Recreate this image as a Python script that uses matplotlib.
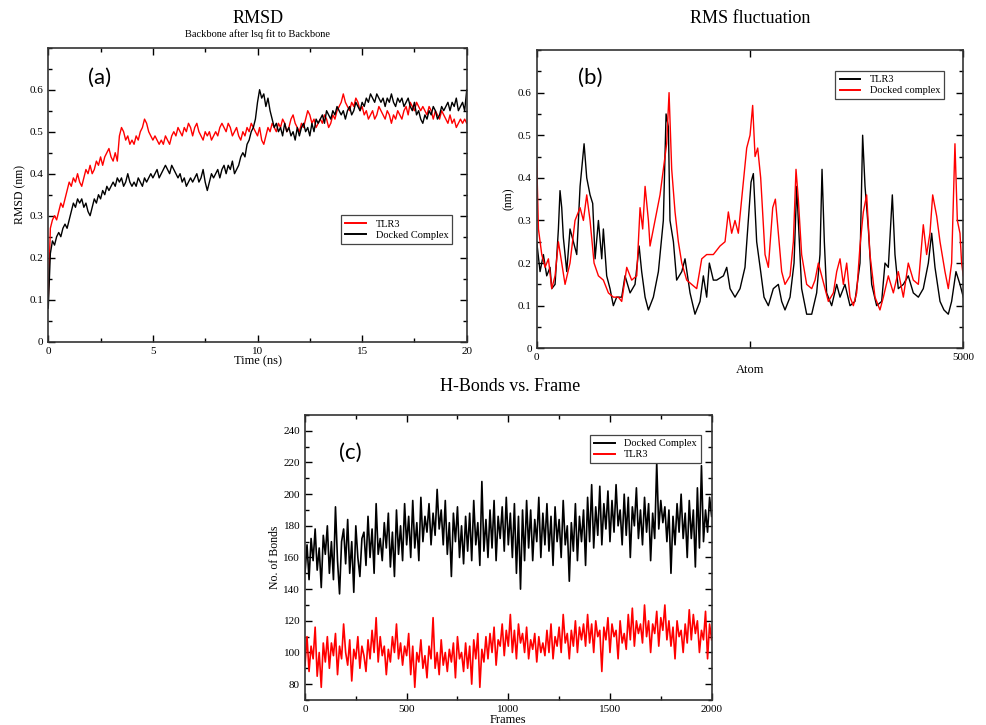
import numpy as np
import matplotlib
matplotlib.use("Agg")
import matplotlib.pyplot as plt
from matplotlib.ticker import MultipleLocator, FixedLocator

plt.rcParams['font.family'] = ['Liberation Serif', 'DejaVu Serif']

# ---- (a) RMSD data, 0.1 ns steps ----
rmsd_time = np.linspace(0, 20, 201)
rmsd_tlr3 = [
    0.10, 0.27, 0.29, 0.30, 0.29, 0.31, 0.33, 0.32, 0.34, 0.36,
    0.38, 0.37, 0.39, 0.38, 0.40, 0.38, 0.37, 0.39, 0.41, 0.40,
    0.42, 0.40, 0.41, 0.43, 0.42, 0.44, 0.42, 0.44, 0.45, 0.46,
    0.44, 0.43, 0.45, 0.43, 0.49, 0.51, 0.50, 0.48, 0.49, 0.47,
    0.48, 0.47, 0.49, 0.48, 0.50, 0.51, 0.53, 0.52, 0.50, 0.49,
    0.48, 0.49, 0.48, 0.47, 0.48, 0.47, 0.49, 0.48, 0.47, 0.49,
    0.50, 0.49, 0.51, 0.50, 0.49, 0.51, 0.50, 0.52, 0.51, 0.49,
    0.51, 0.52, 0.50, 0.49, 0.48, 0.50, 0.49, 0.50, 0.48, 0.49,
    0.50, 0.49, 0.51, 0.52, 0.51, 0.50, 0.52, 0.51, 0.49, 0.50,
    0.51, 0.49, 0.48, 0.50, 0.49, 0.51, 0.50, 0.52, 0.51, 0.50,
    0.49, 0.51, 0.48, 0.47, 0.49, 0.51, 0.50, 0.52, 0.51, 0.50,
    0.52, 0.51, 0.53, 0.52, 0.50, 0.51, 0.53, 0.54, 0.52, 0.51,
    0.50, 0.52, 0.51, 0.53, 0.55, 0.54, 0.52, 0.53, 0.51, 0.52,
    0.53, 0.52, 0.54, 0.53, 0.51, 0.52, 0.54, 0.53, 0.55, 0.56,
    0.57, 0.59, 0.57, 0.56, 0.55, 0.57, 0.56, 0.58, 0.57, 0.55,
    0.56, 0.54, 0.55, 0.53, 0.54, 0.55, 0.53, 0.54, 0.56, 0.55,
    0.54, 0.53, 0.55, 0.54, 0.52, 0.54, 0.53, 0.55, 0.54, 0.53,
    0.55, 0.56, 0.54, 0.57, 0.56, 0.55, 0.57, 0.56, 0.55, 0.56,
    0.55, 0.54, 0.56, 0.55, 0.53, 0.55, 0.54, 0.53, 0.55, 0.54,
    0.53, 0.52, 0.54, 0.52, 0.53, 0.51, 0.52, 0.53, 0.52, 0.53,
    0.52]
rmsd_docked = [
    0.08, 0.21, 0.24, 0.23, 0.25, 0.26, 0.25, 0.27, 0.28, 0.27,
    0.29, 0.31, 0.33, 0.32, 0.34, 0.33, 0.34, 0.32, 0.33, 0.31,
    0.30, 0.32, 0.34, 0.33, 0.35, 0.34, 0.36, 0.35, 0.37, 0.36,
    0.37, 0.38, 0.37, 0.39, 0.38, 0.39, 0.37, 0.38, 0.40, 0.38,
    0.37, 0.38, 0.37, 0.39, 0.38, 0.37, 0.39, 0.38, 0.39, 0.40,
    0.39, 0.40, 0.41, 0.39, 0.40, 0.41, 0.42, 0.41, 0.40, 0.42,
    0.41, 0.40, 0.39, 0.40, 0.38, 0.39, 0.37, 0.38, 0.39, 0.38,
    0.39, 0.40, 0.38, 0.39, 0.41, 0.38, 0.36, 0.38, 0.40, 0.39,
    0.40, 0.41, 0.39, 0.41, 0.42, 0.40, 0.42, 0.41, 0.43, 0.40,
    0.41, 0.42, 0.44, 0.45, 0.44, 0.47, 0.48, 0.50, 0.51, 0.53,
    0.57, 0.60, 0.58, 0.59, 0.56, 0.58, 0.55, 0.53, 0.51, 0.52,
    0.50, 0.51, 0.49, 0.52, 0.50, 0.51, 0.49, 0.50, 0.48, 0.51,
    0.49, 0.51, 0.52, 0.50, 0.51, 0.49, 0.52, 0.50, 0.53, 0.52,
    0.53, 0.54, 0.52, 0.55, 0.54, 0.53, 0.55, 0.54, 0.56, 0.55,
    0.54, 0.55, 0.53, 0.55, 0.56, 0.54, 0.55, 0.57, 0.56, 0.55,
    0.57, 0.56, 0.58, 0.57, 0.59, 0.58, 0.57, 0.59, 0.58, 0.57,
    0.58, 0.56, 0.58, 0.57, 0.59, 0.57, 0.56, 0.58, 0.57, 0.58,
    0.56, 0.57, 0.58, 0.56, 0.55, 0.57, 0.54, 0.55, 0.53, 0.52,
    0.54, 0.53, 0.55, 0.54, 0.56, 0.55, 0.53, 0.54, 0.56, 0.55,
    0.56, 0.57, 0.55, 0.57, 0.56, 0.58, 0.55, 0.56, 0.57, 0.55,
    0.60]

# ---- (b) RMSF data ----
rmsf_atom_tlr3 = [0, 39, 78, 117, 156, 176, 215, 254, 273, 293, 312, 352, 390, 430, 469,
                  508, 555, 586, 625, 656, 684, 723, 762, 781, 820, 859, 898, 937, 996,
                  1035, 1094, 1152, 1200, 1230, 1270, 1309, 1367, 1426, 1484, 1516, 1543,
                  1562, 1602, 1640, 1700, 1738, 1797, 1855, 1914, 1953, 1992, 2023, 2070,
                  2109, 2188, 2227, 2266, 2324, 2383, 2441, 2480, 2512, 2539, 2578, 2625,
                  2664, 2715, 2773, 2832, 2871, 2910, 2969, 3016, 3047, 3066, 3105, 3164,
                  3223, 3281, 3320, 3344, 3371, 3398, 3457, 3516, 3555, 3613, 3672, 3730,
                  3789, 3820, 3848, 3887, 3926, 3984, 4043, 4082, 4121, 4168, 4199, 4238,
                  4297, 4355, 4414, 4473, 4531, 4590, 4629, 4668, 4727, 4773, 4824, 4863,
                  4914, 4961, 5000]
rmsf_tlr3 = [0.25, 0.18, 0.22, 0.17, 0.19, 0.14, 0.15, 0.28, 0.37, 0.33, 0.26, 0.18, 0.28,
             0.25, 0.22, 0.38, 0.48, 0.40, 0.36, 0.34, 0.21, 0.30, 0.21, 0.28, 0.17, 0.14,
             0.10, 0.12, 0.12, 0.17, 0.13, 0.15, 0.24, 0.18, 0.12, 0.09, 0.12, 0.18, 0.30,
             0.55, 0.52, 0.30, 0.25, 0.16, 0.18, 0.21, 0.13, 0.08, 0.11, 0.17, 0.12, 0.20,
             0.16, 0.16, 0.17, 0.19, 0.14, 0.12, 0.14, 0.19, 0.30, 0.39, 0.41, 0.25, 0.18,
             0.12, 0.10, 0.14, 0.15, 0.11, 0.09, 0.12, 0.20, 0.38, 0.30, 0.14, 0.08, 0.08,
             0.13, 0.22, 0.42, 0.25, 0.13, 0.10, 0.15, 0.12, 0.15, 0.10, 0.11, 0.20, 0.50,
             0.38, 0.28, 0.15, 0.10, 0.11, 0.20, 0.19, 0.36, 0.22, 0.14, 0.15, 0.17, 0.13,
             0.12, 0.14, 0.20, 0.27, 0.19, 0.11, 0.09, 0.08, 0.11, 0.18, 0.15, 0.12]
rmsf_atom_docked = [0, 20, 59, 98, 137, 176, 215, 254, 293, 332, 390, 449, 508, 547, 586,
                    625, 672, 723, 781, 840, 898, 957, 996, 1055, 1113, 1172, 1211, 1242,
                    1270, 1309, 1328, 1367, 1406, 1445, 1484, 1523, 1551, 1582, 1621, 1660,
                    1700, 1758, 1816, 1875, 1934, 1992, 2070, 2148, 2207, 2246, 2285, 2324,
                    2363, 2402, 2461, 2500, 2531, 2559, 2590, 2625, 2676, 2715, 2766, 2797,
                    2832, 2871, 2910, 2969, 3008, 3039, 3066, 3105, 3164, 3223, 3262, 3301,
                    3340, 3379, 3418, 3477, 3516, 3555, 3594, 3633, 3672, 3711, 3750, 3789,
                    3828, 3867, 3906, 3965, 4023, 4063, 4121, 4180, 4238, 4297, 4355, 4414,
                    4473, 4531, 4570, 4609, 4641, 4688, 4727, 4785, 4824, 4863, 4902, 4930,
                    4961, 4980, 5000]
rmsf_docked = [0.44, 0.28, 0.22, 0.19, 0.21, 0.14, 0.17, 0.25, 0.20, 0.15, 0.20, 0.30,
               0.33, 0.30, 0.36, 0.30, 0.20, 0.17, 0.16, 0.13, 0.12, 0.12, 0.11, 0.19,
               0.16, 0.17, 0.33, 0.28, 0.38, 0.30, 0.24, 0.28, 0.32, 0.36, 0.42, 0.48,
               0.60, 0.42, 0.32, 0.25, 0.20, 0.16, 0.15, 0.14, 0.21, 0.22, 0.22, 0.24,
               0.25, 0.32, 0.27, 0.30, 0.27, 0.35, 0.47, 0.50, 0.57, 0.45, 0.47, 0.40,
               0.22, 0.19, 0.33, 0.35, 0.27, 0.18, 0.15, 0.17, 0.25, 0.42, 0.35, 0.22,
               0.15, 0.14, 0.16, 0.20, 0.17, 0.14, 0.11, 0.13, 0.18, 0.21, 0.15, 0.20,
               0.12, 0.10, 0.13, 0.24, 0.32, 0.36, 0.22, 0.12, 0.09, 0.12, 0.17, 0.13,
               0.18, 0.12, 0.20, 0.16, 0.15, 0.29, 0.22, 0.27, 0.36, 0.31, 0.25, 0.18,
               0.14, 0.20, 0.48, 0.30, 0.27, 0.20, 0.17]

# ---- (c) H-bond data, every 10 frames ----
hb_frames = np.linspace(0, 2000, 201)
hb_docked = [
    150, 168, 146, 172, 158, 178, 152, 166, 141, 174,
    162, 180, 150, 170, 146, 192, 158, 137, 170, 178,
    156, 184, 150, 170, 138, 180, 160, 148, 172, 176,
    155, 186, 160, 178, 150, 194, 162, 172, 158, 182,
    166, 188, 154, 176, 148, 190, 162, 180, 158, 194,
    168, 186, 160, 196, 166, 182, 158, 198, 170, 186,
    176, 194, 168, 188, 174, 203, 178, 190, 168, 196,
    162, 182, 148, 188, 170, 192, 160, 180, 156, 186,
    164, 188, 158, 196, 168, 182, 155, 208, 164, 184,
    160, 190, 166, 196, 158, 186, 172, 192, 164, 198,
    168, 188, 160, 194, 150, 186, 140, 190, 158, 196,
    166, 190, 158, 184, 170, 198, 160, 188, 168, 194,
    164, 186, 155, 192, 170, 184, 160, 196, 168, 180,
    145, 182, 164, 194, 158, 186, 170, 190, 155, 198,
    170, 206, 166, 192, 174, 205, 168, 194, 178, 202,
    170, 196, 176, 206, 180, 190, 168, 200, 174, 198,
    160, 192, 180, 204, 172, 190, 168, 198, 176, 194,
    158, 188, 172, 220, 178, 196, 182, 192, 170, 190,
    150, 186, 168, 194, 176, 200, 172, 188, 160, 196,
    172, 190, 154, 204, 166, 218, 170, 190, 176, 198,
    186]
hb_tlr3 = [
    92, 110, 88, 104, 96, 116, 85, 100, 78, 106,
    94, 110, 90, 106, 98, 112, 86, 104, 96, 118,
    100, 92, 108, 82, 102, 96, 110, 90, 104, 98,
    88, 108, 96, 114, 100, 122, 94, 110, 98, 104,
    86, 102, 94, 110, 100, 118, 96, 106, 92, 104,
    98, 112, 86, 104, 78, 100, 94, 108, 90, 98,
    84, 104, 96, 122, 90, 100, 86, 108, 92, 100,
    88, 102, 94, 106, 84, 110, 96, 100, 88, 106,
    90, 104, 80, 108, 96, 112, 78, 102, 94, 110,
    96, 112, 100, 116, 92, 108, 104, 118, 98, 114,
    104, 124, 100, 114, 96, 118, 106, 112, 100, 116,
    96, 108, 102, 112, 94, 110, 100, 106, 98, 114,
    100, 118, 96, 110, 104, 116, 100, 124, 106, 112,
    96, 114, 104, 120, 100, 116, 108, 118, 104, 124,
    106, 118, 100, 120, 110, 114, 88, 116, 108, 122,
    100, 118, 110, 114, 96, 120, 106, 112, 102, 124,
    108, 128, 104, 120, 112, 118, 106, 130, 110, 120,
    100, 118, 112, 126, 104, 122, 114, 130, 108, 120,
    104, 116, 96, 120, 110, 114, 100, 118, 106, 127,
    108, 124, 112, 120, 100, 114, 108, 126, 96, 118,
    108]


def style_axes(ax):
    ax.tick_params(which='both', direction='in', top=True, right=True,
                   labelsize=8, width=1.0)
    ax.tick_params(which='major', length=5)
    ax.tick_params(which='minor', length=3)
    for s in ax.spines.values():
        s.set_linewidth(1.2)
        s.set_color('#333333')


def add_legend(ax, x, y):
    leg = ax.legend(loc='upper left', bbox_to_anchor=(x, y), fontsize=7.5,
                    fancybox=False, framealpha=1, edgecolor='#444444',
                    handlelength=2.0, borderpad=0.4, labelspacing=0.15,
                    handletextpad=0.9, borderaxespad=0)
    leg.get_frame().set_linewidth(0.9)
    for ln in leg.get_lines():
        ln.set_linewidth(1.4)


fig = plt.figure(figsize=(9.87, 7.25), dpi=100)

# (a)
ax1 = fig.add_axes([0.0489, 0.5287, 0.424, 0.4055])
ax1.plot(rmsd_time, rmsd_tlr3, color='red', lw=1.0, label='TLR3')
ax1.plot(rmsd_time, rmsd_docked, color='black', lw=1.0, label='Docked Complex')
ax1.set_xlim(0, 20)
ax1.set_ylim(0, 0.7)
ax1.xaxis.set_major_locator(MultipleLocator(5))
ax1.xaxis.set_minor_locator(MultipleLocator(2.5))
ax1.yaxis.set_major_locator(FixedLocator([0, 0.1, 0.2, 0.3, 0.4, 0.5, 0.6]))
ax1.yaxis.set_minor_locator(MultipleLocator(0.05))
ax1.set_yticklabels(['0', '0.1', '0.2', '0.3', '0.4', '0.5', '0.6'])
ax1.set_xlabel('Time (ns)', fontsize=9, labelpad=0)
ax1.set_ylabel('RMSD (nm)', fontsize=8.5, labelpad=2)
style_axes(ax1)
add_legend(ax1, 0.70, 0.43)
fig.text(0.261, 0.975, 'RMSD', ha='center', va='center', fontsize=13)
fig.text(0.261, 0.953, 'Backbone after lsq fit to Backbone', ha='center', va='center',
         fontsize=7.5)
fig.text(0.101, 0.893, '(a)', ha='center', va='center', fontsize=16, family='Lato')

# (b)
ax2 = fig.add_axes([0.5438, 0.5196, 0.4322, 0.4114])
ax2.plot(rmsf_atom_tlr3, rmsf_tlr3, color='black', lw=1.0, label='TLR3')
ax2.plot(rmsf_atom_docked, rmsf_docked, color='red', lw=1.0, label='Docked complex')
ax2.set_xlim(0, 5000)
ax2.set_ylim(0, 0.7)
ax2.xaxis.set_major_locator(FixedLocator([0, 2500, 5000]))
ax2.set_xticklabels(['0', '', '5000'])
ax2.yaxis.set_major_locator(FixedLocator([0, 0.1, 0.2, 0.3, 0.4, 0.5, 0.6]))
ax2.yaxis.set_minor_locator(MultipleLocator(0.05))
ax2.set_yticklabels(['0', '0.1', '0.2', '0.3', '0.4', '0.5', '0.6'])
ax2.set_xlabel('Atom', fontsize=9, labelpad=1)
ax2.set_ylabel('(nm)', fontsize=8.5, labelpad=2)
style_axes(ax2)
add_legend(ax2, 0.70, 0.93)
fig.text(0.76, 0.974, 'RMS fluctuation', ha='center', va='center', fontsize=13)
fig.text(0.598, 0.892, '(b)', ha='center', va='center', fontsize=16, family='Lato')

# (c)
ax3 = fig.add_axes([0.309, 0.0345, 0.412, 0.3931])
ax3.plot(hb_frames, hb_docked, color='black', lw=1.2, label='Docked Complex')
ax3.plot(hb_frames, hb_tlr3, color='red', lw=1.2, label='TLR3')
ax3.set_xlim(0, 2000)
ax3.set_ylim(70, 250)
ax3.xaxis.set_major_locator(MultipleLocator(500))
ax3.xaxis.set_minor_locator(MultipleLocator(250))
ax3.yaxis.set_major_locator(FixedLocator([80, 100, 120, 140, 160, 180, 200, 220, 240]))
ax3.yaxis.set_minor_locator(MultipleLocator(10))
ax3.set_xlabel('Frames', fontsize=9, labelpad=0)
ax3.set_ylabel('No. of Bonds', fontsize=8.5, labelpad=2)
style_axes(ax3)
add_legend(ax3, 0.70, 0.93)
fig.text(0.517, 0.467, 'H-Bonds vs. Frame', ha='center', va='center', fontsize=13)
fig.text(0.355, 0.375, '(c)', ha='center', va='center', fontsize=16, family='Lato')

fig.savefig('out.png', dpi=100)
plt.close(fig)
